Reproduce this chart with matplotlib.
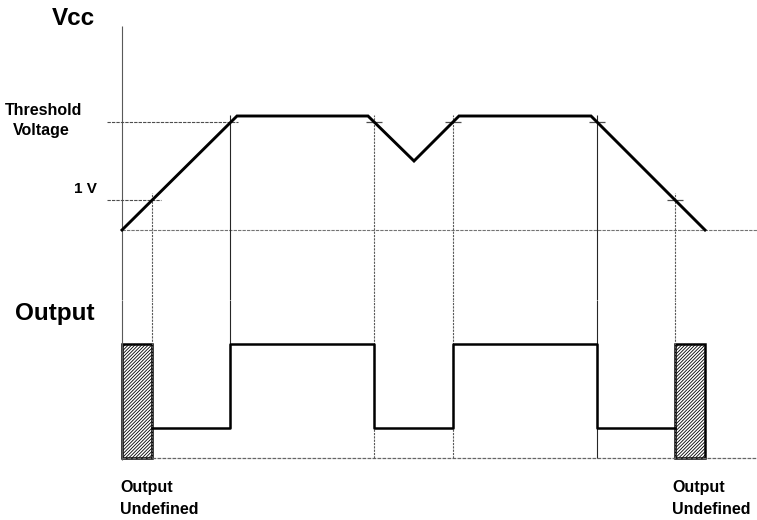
import matplotlib
matplotlib.use("Agg")
import matplotlib.pyplot as plt

plt.rcParams['font.family'] = ['Liberation Sans', 'DejaVu Sans']
plt.rcParams['hatch.linewidth'] = 0.6

# supply voltage trace (time, volts)
vcc_t = [0, 11.5, 24.6, 29.2, 33.7, 46.9, 58.3]
vcc_v = [0, 3.8, 3.8, 2.3, 3.8, 3.8, 0]

# levels
one_volt = 1.0
threshold = 3.6

# points where the trace crosses 1 V / threshold
cross_t = [3.0, 10.8, 25.2, 33.1, 47.5, 55.3]
cross_v = [1.0, 3.6, 3.6, 3.6, 3.6, 1.0]
guide_end = [0, 1.0, 0, 0, 0, 0]   # where each guide stops in the output panel
solid_guides = [10.8, 47.5]

# output trace
out_t = [3.0, 10.8, 25.2, 33.1, 47.5, 55.3]
out_v = [1.0, 3.8, 1.0, 3.8, 1.0, 1.0]
out_high = 3.8

# undefined output regions (start, width)
undef_start = [0, 55.3]
undef_width = [3.0, 3.0]

t_end = 63.5

fig = plt.figure(figsize=(7.57, 5.2), dpi=100)
ax = fig.add_axes([0, 220 / 520, 1, 300 / 520])
ax2 = fig.add_axes([0, 0, 1, 220 / 520])
ax.set_xlim(-12.2, t_end)
ax.set_ylim(-70 / 30, 230 / 30)
ax2.set_xlim(-12.2, t_end)
ax2.set_ylim(-62 / 30, 158 / 30)
for a in (ax, ax2):
    a.axis('off')

gcol = '0.3'
# vertical axis line
ax.vlines(0, ax.get_ylim()[0], 6.8, color='0.35', lw=0.8)
ax2.vlines(0, -0.07, ax2.get_ylim()[1], color='0.35', lw=0.8)

# baselines
ax.hlines(0, 0, t_end, color='0.45', lw=0.8, linestyles=(0, (3, 1)))
ax2.hlines(0, 0, t_end, color='0.4', lw=0.9, linestyles=(0, (3, 1)))

# threshold and 1 V reference dashes
ax.hlines(threshold, -1.5, 11.6, color=gcol, lw=0.8, linestyles=(0, (3, 1)))
ax.hlines(one_volt, -1.5, 3.9, color=gcol, lw=0.8, linestyles=(0, (3, 1)))
for t, v in zip(cross_t[2:], cross_v[2:]):
    ax.hlines(v, t - 0.8, t + 0.8, color=gcol, lw=0.9)

# guides
for t, v, e in zip(cross_t, cross_v, guide_end):
    if t in solid_guides:
        ls, c = '-', '0.15'
    else:
        ls, c = (0, (2, 1)), '0.35'
    ax.vlines(t, ax.get_ylim()[0], v + 0.25, color=c, lw=0.8, linestyles=ls)
    ax2.vlines(t, e, ax2.get_ylim()[1], color=c, lw=0.8, linestyles=ls)

# Vcc trace
ax.plot(vcc_t, vcc_v, color='black', lw=2.1, solid_joinstyle='miter')

# output trace
ax2.step(out_t, out_v, where='post', color='black', lw=1.8)
ax2.bar(undef_start, [out_high] * 2, width=undef_width, align='edge',
        fill=False, edgecolor='black', lw=1.8, hatch='/' * 10)

# labels
fig.text(52 / 757, 1 - 25 / 520, 'Vcc', fontsize=17.5, fontweight='bold', va='baseline')
fig.text(5 / 757, 1 - 115 / 520, 'Threshold', fontsize=11.5, fontweight='bold', va='baseline')
fig.text(13 / 757, 1 - 135 / 520, 'Voltage', fontsize=11.5, fontweight='bold', va='baseline')
fig.text(97 / 757, 1 - 193 / 520, '1 V', fontsize=11, fontweight='bold', va='baseline', ha='right')
fig.text(15 / 757, 1 - 320 / 520, 'Output', fontsize=17.5, fontweight='bold', va='baseline')
for x in (120, 672):
    fig.text(x / 757, 1 - 492 / 520, 'Output', fontsize=11.5, fontweight='bold', va='baseline')
    fig.text(x / 757, 1 - 514 / 520, 'Undefined', fontsize=11.5, fontweight='bold', va='baseline')

fig.savefig('out.png', dpi=100)
